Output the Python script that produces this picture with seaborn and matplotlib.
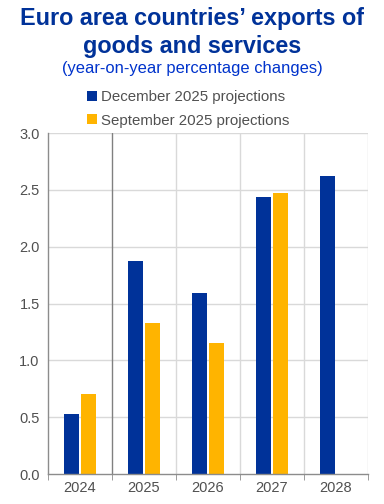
import numpy as np
import pandas as pd
import matplotlib
matplotlib.use('Agg')
import matplotlib.pyplot as plt
from matplotlib.patches import Patch
import seaborn as sns

years = ['2024', '2025', '2026', '2027', '2028']
dec_2025 = [0.53, 1.87, 1.59, 2.44, 2.62]
sep_2025 = [0.70, 1.33, 1.15, 2.47, np.nan]
series_names = ['December 2025 projections', 'September 2025 projections']
colors = ['#003299', '#FFB400']

df = pd.DataFrame({
    'year': years * 2,
    'value': dec_2025 + sep_2025,
    'projection': [series_names[0]] * len(years) + [series_names[1]] * len(years),
})

sns.set_style('white')
plt.rcParams['font.family'] = ['Liberation Sans', 'DejaVu Sans']

fig = plt.figure(figsize=(3.84, 5.04), dpi=100)
ax = fig.add_axes([0.125, 0.0595, 0.833, 0.6765])

sns.barplot(data=df, x='year', y='value', hue='projection', palette=colors,
            width=0.54, gap=0.12, saturation=1, linewidth=0, legend=False, ax=ax)

ax.set_ylim(0, 3.0)
ax.set_xlim(-0.5, 4.5)
ax.set_yticks(np.arange(0, 3.01, 0.5))
ax.set_yticklabels([f'{v:.1f}' for v in np.arange(0, 3.01, 0.5)])
ax.set_xlabel('')
ax.set_ylabel('')

grid_c = '#D9D9D9'
for v in np.arange(0.5, 3.01, 0.5):
    ax.axhline(v, color=grid_c, lw=1, zorder=0)
for b in [1.5, 2.5, 3.5, 4.5]:
    ax.axvline(b, color=grid_c, lw=1, zorder=0)
ax.axvline(0.5, color='#808080', lw=1, zorder=0)

for s in ['top', 'right']:
    ax.spines[s].set_visible(False)
for s in ['left', 'bottom']:
    ax.spines[s].set_color('#8C8C8C')
    ax.spines[s].set_linewidth(1)

ax.set_xticks(np.arange(-0.5, 4.6, 1.0), minor=True)
ax.tick_params(axis='x', which='major', length=0, labelsize=10.5, labelcolor='#505050', pad=5)
ax.tick_params(axis='x', which='minor', length=4, color='#8C8C8C', direction='out', bottom=True)
ax.tick_params(axis='y', length=0, labelsize=10.5, labelcolor='#505050', pad=6)

fig.text(0.5, 1 - 19 / 504, 'Euro area countries\u2019 exports of', ha='center', va='center',
         fontsize=16.8, fontweight='bold', color='#003299')
fig.text(0.5, 1 - 47 / 504, 'goods and services', ha='center', va='center',
         fontsize=16.8, fontweight='bold', color='#003299')
fig.text(0.5, 1 - 69 / 504, '(year-on-year percentage changes)', ha='center', va='center',
         fontsize=11.9, color='#0033CC')

handles = [Patch(facecolor=c, edgecolor='none') for c in colors]
fig.legend(handles, series_names, loc='upper center', bbox_to_anchor=(0.49, 1 - 83 / 504),
           frameon=False, fontsize=10.8, handlelength=0.65, handleheight=0.65,
           handletextpad=0.3, labelspacing=0.6, borderpad=0, labelcolor='#505050')

fig.savefig('out.png', dpi=100)
